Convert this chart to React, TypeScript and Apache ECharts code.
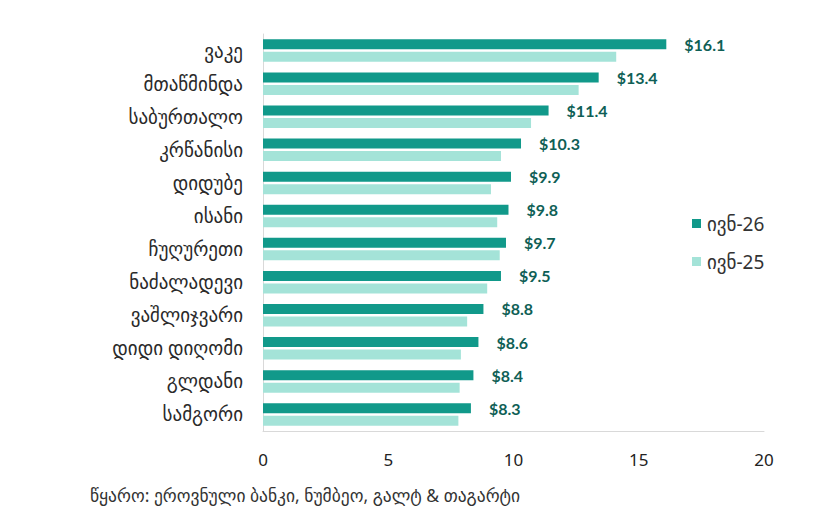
import React, { useEffect, useRef } from "react";
import * as echarts from "echarts";

const categories = [
  "ვაკე",
  "მთაწმინდა",
  "საბურთალო",
  "კრწანისი",
  "დიდუბე",
  "ისანი",
  "ჩუღურეთი",
  "ნაძალადევი",
  "ვაშლიჯვარი",
  "დიდი დიღომი",
  "გლდანი",
  "სამგორი",
];
const seriesNames = ["ივნ-26", "ივნ-25"];
const jun26 = [16.1, 13.4, 11.4, 10.3, 9.9, 9.8, 9.7, 9.5, 8.8, 8.6, 8.4, 8.3];
const jun25 = [14.1, 12.6, 10.7, 9.5, 9.1, 9.35, 9.45, 8.95, 8.15, 7.9, 7.85, 7.8];
const xTicks = { min: 0, max: 20, interval: 5 };
const sourceText = "წყარო: ეროვნული ბანკი, ნუმბეო, გალტ & თაგარტი";

const FONT = "'Noto Sans', 'DejaVu Sans', sans-serif";

export default function App() {
  const ref = useRef<HTMLDivElement>(null);
  useEffect(() => {
    if (!ref.current) return;
    const chart = echarts.init(ref.current, null, { renderer: "svg" });
    chart.setOption({
      animation: false,
      backgroundColor: "#ffffff",
      grid: { left: 263, right: 57, top: 34, bottom: 99, containLabel: false },
      legend: {
        orient: "vertical",
        left: 687,
        top: 209,
        itemWidth: 9,
        itemHeight: 9,
        itemGap: 19,
        icon: "rect",
        textStyle: { fontFamily: FONT, fontSize: 19, color: "#333333", padding: [0, 0, 0, 1] },
        data: seriesNames,
      },
      xAxis: {
        type: "value",
        min: xTicks.min,
        max: xTicks.max,
        interval: xTicks.interval,
        axisLine: { show: true, lineStyle: { color: "#d9d9d9", width: 1 } },
        axisTick: { show: false },
        splitLine: { show: false },
        axisLabel: { fontFamily: FONT, fontSize: 17, color: "#222222", margin: 20 },
      },
      yAxis: {
        type: "category",
        data: categories,
        inverse: true,
        axisLine: { show: true, lineStyle: { color: "#d9d9d9", width: 1 } },
        axisTick: { show: false },
        axisLabel: { fontFamily: FONT, fontSize: 19, color: "#2a2a2a", margin: 20 },
      },
      series: [
        {
          name: seriesNames[0],
          type: "bar",
          data: jun26,
          barWidth: 10,
          barGap: "25%",
          itemStyle: { color: "#11998a" },
          label: {
            show: true,
            position: "right",
            distance: 18,
            formatter: (p: any) => "$" + p.value.toFixed(1),
            fontFamily: "Lato, 'Open Sans', sans-serif",
            fontWeight: "bold",
            fontSize: 16,
            color: "#0f5f56",
          },
        },
        {
          name: seriesNames[1],
          type: "bar",
          data: jun25,
          barWidth: 10,
          barGap: "25%",
          itemStyle: { color: "#a4e3d8" },
        },
      ],
      graphic: [
        {
          type: "text",
          left: 90,
          top: 486,
          style: { text: sourceText, fontFamily: FONT, fontSize: 17.5, fill: "#333333" },
        },
      ],
    });
    return () => chart.dispose();
  }, []);
  return (
    <div
      ref={ref}
      style={{ position: "fixed", left: 0, top: 0, width: 821, height: 530, background: "#fff" }}
    />
  );
}
